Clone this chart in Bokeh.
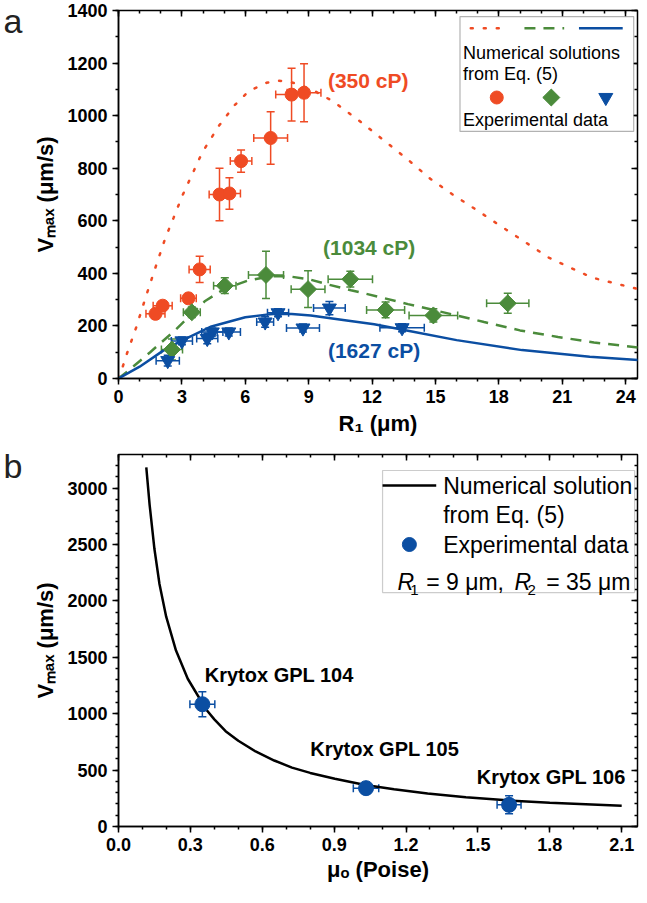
import numpy as np
from bokeh.plotting import figure
from bokeh.layouts import column
from bokeh.models import (ColumnDataSource, Whisker, TeeHead, Label, BoxAnnotation, FixedTicker,
                          LinearAxis, SingleIntervalTicker, NumeralTickFormatter, Range1d)
from bokeh.embed import file_html
from bokeh.resources import INLINE

# ---------------- data: panel a ----------------
# experimental points, 350 cP
r1_350 = [1.75, 2.09, 3.31, 3.84, 4.78, 5.25, 5.80, 7.20, 8.19, 8.78]
v_350 = [246, 277, 305, 415, 700, 704, 827, 915, 1080, 1087]
v_350_err = [15, 15, 15, 50, 100, 60, 42, 100, 100, 110]
r1_350_err = [0.45, 0.45, 0.37, 0.50, 0.49, 0.52, 0.51, 0.80, 0.75, 0.80]
# experimental points, 1034 cP
r1_1034 = [2.53, 3.47, 5.03, 6.98, 8.97, 10.97, 12.64, 14.90, 18.42]
v_1034 = [110, 252, 353, 394, 340, 378, 261, 240, 286]
v_1034_err = [40, 20, 30, 90, 70, 30, 30, 25, 38]
r1_1034_err = [0.50, 0.40, 0.53, 0.83, 0.80, 1.05, 0.90, 1.15, 1.00]
# experimental points, 1627 cP
r1_1627 = [2.33, 3.00, 4.20, 4.44, 5.22, 6.94, 7.55, 8.73, 9.98, 13.42]
v_1627 = [68, 143, 152, 177, 177, 215, 250, 192, 268, 193]
v_1627_err = [20, 15, 20, 15, 15, 20, 15, 15, 25, 15]
r1_1627_err = [0.55, 0.50, 0.50, 0.50, 0.55, 0.40, 0.50, 0.78, 0.75, 1.05]
# numerical solutions
cx_350 = [0, 0.2, 0.4, 0.84, 1.31, 1.78, 2.22, 2.6, 3.03, 3.97, 4.75, 5.5, 6.16, 7.0, 7.5, 8.0, 8.5, 9.2,
          10.14, 11.31, 12.48, 13.66, 14.75, 15.92, 16.55, 18.35, 20.38, 22.4, 24.6]
cy_350 = [0, 45, 95, 195, 315, 430, 535, 610, 697, 861, 961, 1040, 1093, 1125, 1133, 1130, 1120, 1097,
          1055, 986, 911, 835, 760, 694, 662, 566, 459, 384, 340]
cx_1034 = [0, 0.5, 1.5, 2.7, 4.1, 5.0, 6.1, 7.0, 7.5, 8.2, 9.0, 9.9, 11.0, 12.4, 13.7, 16.0, 17.3, 19.0,
           20.8, 22.5, 24.6]
cy_1034 = [0, 32, 100, 185, 295, 340, 372, 386, 390, 387, 378, 358, 336, 309, 283, 240, 215, 183,
           158, 137, 118]
cx_1627 = [0, 1.0, 2.1, 2.9, 4.4, 6.0, 7.0, 7.5, 8.2, 9.1, 10.8, 12.1, 13.7, 16.0, 19.1, 22.3, 24.6]
cy_1627 = [0, 45, 105, 140, 198, 233, 243, 246, 245, 240, 221, 206, 182, 146, 108, 83, 70]

# ---------------- data: panel b ----------------
mu_exp = [0.35, 1.033, 1.63]
v_exp = [1084, 340, 192]
v_exp_err = [110, 50, 80]
mu_exp_err = [0.052, 0.053, 0.05]
oil_names = ["Krytox GPL 104", "Krytox GPL 105", "Krytox GPL 106"]
mu_curve = [0.116, 0.130, 0.150, 0.171, 0.199, 0.240, 0.289, 0.365, 0.40, 0.447, 0.50, 0.572, 0.65,
            0.724, 0.80, 0.903, 1.03, 1.15, 1.29, 1.45, 1.62, 1.80, 2.1]
v_curve = [3183, 2850, 2460, 2150, 1860, 1560, 1310, 1040, 950, 845, 760, 665, 585,
           522, 475, 423, 368, 330, 293, 260, 232, 210, 183]

RED = "#EF4B24"
GREEN = "#4B8B3B"
BLUE = "#0B4EA2"
FONT = "Liberation Sans"


def style_axes(p, xtick, ytick, xfmt=None):
    xa, ya = p.below[0], p.left[0]
    for ax, tk in ((xa, xtick), (ya, ytick)):
        ax.ticker = tk
        ax.major_label_text_font = FONT
        ax.major_label_text_font_style = "bold"
        ax.major_label_text_font_size = "18px"
        ax.major_label_text_color = "black"
        ax.axis_line_width = 1.5
        ax.major_tick_line_width = 1.5
        ax.minor_tick_line_width = 1.5
        ax.major_tick_out = 6
        ax.major_tick_in = 0
        ax.minor_tick_out = 3
        ax.minor_tick_in = 0
        ax.major_label_standoff = 5
        ax.axis_label_text_font = FONT
        ax.axis_label_text_font_style = "bold"
        ax.axis_label_text_font_size = "22px"
        ax.axis_label_text_color = "black"
    if xfmt is not None:
        xa.formatter = xfmt
    ya.axis_label_standoff = 6
    for loc, tk in (("above", xtick), ("right", ytick)):
        ax = LinearAxis(ticker=SingleIntervalTicker(interval=tk.interval, num_minor_ticks=tk.num_minor_ticks),
                        major_label_text_font_size="1px", major_label_text_color=None,
                        major_label_standoff=0,
                        major_tick_in=6, major_tick_out=0, minor_tick_in=3, minor_tick_out=0,
                        axis_line_color=None, major_tick_line_width=1.5, minor_tick_line_width=1.5)
        p.add_layout(ax, loc)
    p.xgrid.visible = False
    p.ygrid.visible = False
    p.outline_line_color = "black"
    p.outline_line_width = 1.5
    p.outline_line_alpha = 1.0
    return xa, ya


def panel_letter(p, letter, at):
    # the panel letter is drawn as the single tick label of a bare extra left axis
    ax = LinearAxis(ticker=FixedTicker(ticks=[at]), major_label_overrides={at: letter},
                    major_label_text_font=FONT, major_label_text_font_size="34px",
                    major_label_text_color="#222222", major_label_standoff=8,
                    axis_line_color=None, major_tick_line_color=None, minor_tick_line_color=None,
                    major_tick_in=0, major_tick_out=0, minor_tick_in=0, minor_tick_out=0)
    p.add_layout(ax, "left")


def add_series(p, x, y, xerr, yerr, color, marker, size, angle=0.0):
    xa, ya = np.array(x, float), np.array(y, float)
    xe, ye = np.array(xerr, float), np.array(yerr, float)
    src = ColumnDataSource(dict(x=xa, y=ya, xl=xa - xe, xu=xa + xe, yl=ya - ye, yu=ya + ye))
    for dim, base, lo, up in (("height", "x", "yl", "yu"), ("width", "y", "xl", "xu")):
        p.add_layout(Whisker(source=src, base=base, lower=lo, upper=up, dimension=dim,
                             line_color=color, line_width=1.5,
                             lower_head=TeeHead(size=8, line_color=color, line_width=1.5),
                             upper_head=TeeHead(size=8, line_color=color, line_width=1.5)))
    p.scatter("x", "y", source=src, marker=marker, size=size, color=color, angle=angle)


def txt(p, x, y, s, size, color="black", style="normal", align="left", baseline="middle"):
    p.add_layout(Label(x=x, y=y, text=s, text_font=FONT,
                       text_font_size=size, text_font_style=style, text_color=color,
                       text_align=align, text_baseline=baseline))


# ======================= panel a =======================
p1 = figure(width=639, height=441, x_range=Range1d(0, 24.56), y_range=Range1d(0, 1400),
            output_backend="svg", toolbar_location=None,
            min_border_left=114, min_border_right=2, min_border_top=10, min_border_bottom=63,
            background_fill_color="white", border_fill_color="white")
x1, y1 = style_axes(p1, SingleIntervalTicker(interval=3, num_minor_ticks=3),
                    SingleIntervalTicker(interval=200, num_minor_ticks=2))
y1.axis_label = "Vₘₐₓ (μm/s)"
x1.axis_label = "R₁ (μm)"
x1.axis_label_standoff = 5
panel_letter(p1, "a", 1372)

p1.line(cx_350, cy_350, line_color=RED, line_width=2.5, line_dash="2 11", line_cap="round")
p1.line(cx_1034, cy_1034, line_color=GREEN, line_width=2.5, line_dash="11 8")
p1.line(cx_1627, cy_1627, line_color=BLUE, line_width=2.5)

add_series(p1, r1_350, v_350, r1_350_err, v_350_err, RED, "circle", 13)
add_series(p1, r1_1034, v_1034, r1_1034_err, v_1034_err, GREEN, "square", 12, angle=np.pi / 4)
add_series(p1, r1_1627, v_1627, r1_1627_err, v_1627_err, BLUE, "inverted_triangle", 14)

txt(p1, 9.91, 1134, "(350 cP)", "21px", RED, "bold")
txt(p1, 9.68, 498, "(1034 cP)", "21px", GREEN, "bold")
txt(p1, 9.91, 107, "(1627 cP)", "21px", BLUE, "bold")

# legend (panel a)
p1.add_layout(BoxAnnotation(left=16.16, right=24.38, bottom=940, top=1377,
                            fill_color="white", fill_alpha=1.0, line_color="black", line_width=1.2,
                            level="annotation"))
LA_LINE_Y = 1332
p1.line([16.67, 18.46], [LA_LINE_Y] * 2, line_color=RED, line_width=2.5, line_dash="2 11",
        line_cap="round", level="overlay")
p1.line([19.21, 21.09], [LA_LINE_Y] * 2, line_color=GREEN, line_width=2.5, line_dash="11 8", level="overlay")
p1.line([21.79, 23.86], [LA_LINE_Y] * 2, line_color=BLUE, line_width=2.5, level="overlay")
txt(p1, 16.30, 1240, "Numerical solutions", "18px")
txt(p1, 16.30, 1157, "from Eq. (5)", "18px")
LA_MK_Y = 1069
p1.scatter([17.9], [LA_MK_Y], marker="circle", size=13, color=RED, level="overlay")
p1.scatter([20.48], [LA_MK_Y], marker="square", size=12, angle=np.pi / 4, color=GREEN, level="overlay")
p1.scatter([23.06], [LA_MK_Y], marker="inverted_triangle", size=14, color=BLUE, level="overlay")
txt(p1, 16.30, 985, "Experimental data", "18px")

# ======================= panel b =======================
p2 = figure(width=639, height=446, x_range=Range1d(0, 2.166), y_range=Range1d(0, 3298),
            output_backend="svg", toolbar_location=None,
            min_border_left=114, min_border_right=2, min_border_top=13, min_border_bottom=61,
            background_fill_color="white", border_fill_color="white")
x2, y2 = style_axes(p2, SingleIntervalTicker(interval=0.3, num_minor_ticks=3),
                    SingleIntervalTicker(interval=500, num_minor_ticks=5), NumeralTickFormatter(format="0.0"))
y2.axis_label = "Vₘₐₓ (μm/s)"
x2.axis_label = "μₒ (Poise)"
x2.axis_label_standoff = 3
panel_letter(p2, "b", 3200)

p2.line(mu_curve, v_curve, line_color="black", line_width=2.5)
add_series(p2, mu_exp, v_exp, mu_exp_err, v_exp_err, BLUE, "circle", 15)

name_pos = [(0.36, 1347), (0.80, 691), (1.495, 443)]
for (nx, ny), nm in zip(name_pos, oil_names):
    txt(p2, nx, ny, nm, "20px", style="bold")

# legend (panel b)
p2.add_layout(BoxAnnotation(left=1.102, right=2.154, bottom=2074, top=3156,
                            fill_color="white", fill_alpha=1.0, line_color="#555555", line_width=1.2,
                            level="annotation"))
p2.line([1.102, 1.326], [3023, 3023], line_color="black", line_width=2.5, level="overlay")
txt(p2, 1.355, 3023, "Numerical solution", "23px")
txt(p2, 1.355, 2766, "from Eq. (5)", "23px")
p2.scatter([1.214], [2500], marker="circle", size=14, color=BLUE, level="overlay")
txt(p2, 1.355, 2500, "Experimental data", "23px")
txt(p2, 1.164, 2172, "R", "23px", style="italic", baseline="alphabetic")
txt(p2, 1.218, 2101, "1", "15px", baseline="alphabetic")
txt(p2, 1.284, 2172, "= 9 μm,", "23px", baseline="alphabetic")
txt(p2, 1.653, 2172, "R", "23px", style="italic", baseline="alphabetic")
txt(p2, 1.707, 2101, "2", "15px", baseline="alphabetic")
txt(p2, 1.785, 2172, "= 35 μm", "23px", baseline="alphabetic")

layout = column(p1, p2)
open("out.html", "w").write(file_html(layout, INLINE))
